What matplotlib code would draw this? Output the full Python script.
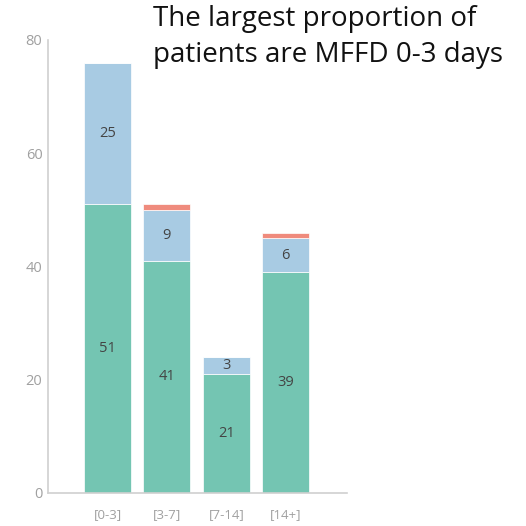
import matplotlib.pyplot as plt
import numpy as np

categories = ["[0-3]", "[3-7]", "[7-14]", "[14+]"]
green_vals = [51, 41, 21, 39]
blue_vals = [25, 9, 3, 6]
red_vals = [0, 1, 0, 1]

green = "#74c5b2"
blue = "#a8cbe3"
red = "#ef8b7d"

plt.rcParams["font.family"] = ["Open Sans", "DejaVu Sans"]

fig = plt.figure(figsize=(5.26, 5.26), dpi=100)
ax = fig.add_axes([48 / 526, 33 / 526, 299 / 526, 453 / 526])

x = np.arange(len(categories))
w = 0.79
g = np.array(green_vals)
b = np.array(blue_vals)
r = np.array(red_vals)

ax.bar(x, g, w, color=green, edgecolor="white", linewidth=0.5)
ax.bar(x, b, w, bottom=g, color=blue, edgecolor="white", linewidth=0.5)
ax.bar(x, r, w, bottom=g + b, color=red, edgecolor="white", linewidth=0.5)

for i in range(len(categories)):
    ax.text(x[i], g[i] / 2, str(g[i]), ha="center", va="center",
            fontsize=10.5, color="#444444")
    ax.text(x[i], g[i] + b[i] / 2, str(b[i]), ha="center", va="center",
            fontsize=10.5, color="#444444")

ax.set_xlim(-1.0, 4.03)
ax.set_ylim(0, 80)
ax.set_yticks([0, 20, 40, 60, 80])
ax.set_xticks(x)
ax.set_xticklabels(categories)
ax.tick_params(length=0, colors="#a0a0a0", labelsize=10.5)
ax.tick_params(axis="y", pad=4)
ax.tick_params(axis="x", labelsize=9.5, pad=11)
for s in ["top", "right"]:
    ax.spines[s].set_visible(False)
for s in ["left", "bottom"]:
    ax.spines[s].set_color("#d0d0d0")
    ax.spines[s].set_linewidth(1.2)

fig.text(153 / 526, 1 - 5 / 526,
         "The largest proportion of\npatients are MFFD 0-3 days",
         ha="left", va="top", fontsize=20, color="#111111", linespacing=1.38)

fig.savefig("out.png", dpi=100)
